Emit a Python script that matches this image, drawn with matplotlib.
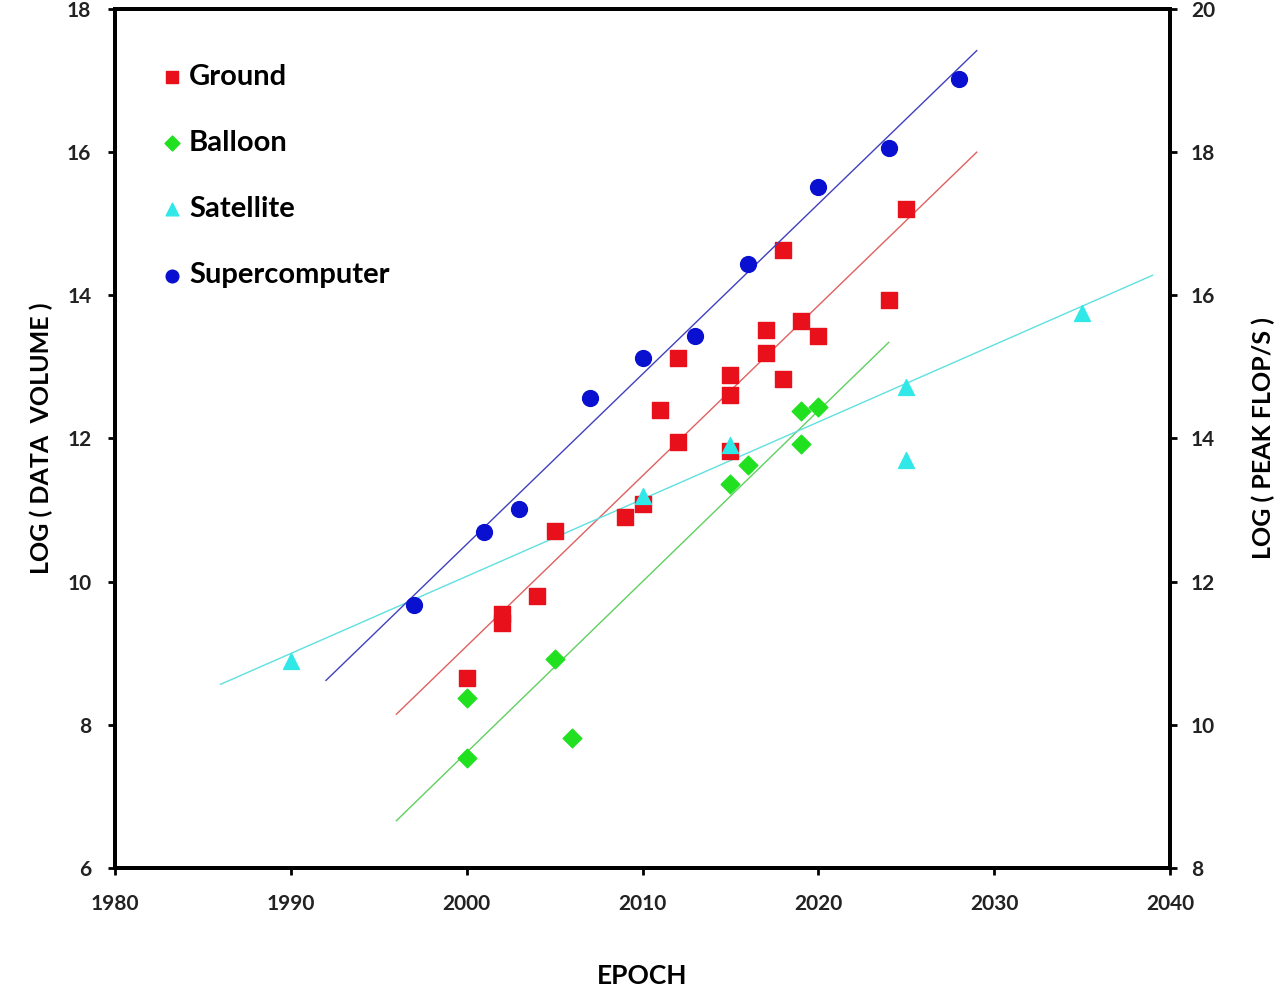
import numpy as np
import matplotlib
matplotlib.use("Agg")
import matplotlib.pyplot as plt

plt.rcParams['font.family'] = ['Lato', 'DejaVu Sans']

# log(data volume) vs epoch
ground_x = [2000, 2002, 2002, 2004, 2005, 2009, 2010, 2011, 2012, 2012, 2015, 2015, 2015,
            2017, 2017, 2018, 2018, 2019, 2020, 2024, 2025]
ground_y = [8.66, 9.55, 9.42, 9.80, 10.71, 10.90, 11.08, 12.40, 13.13, 11.95, 12.88, 12.61, 11.83,
            13.52, 13.20, 14.64, 12.83, 13.64, 13.43, 13.94, 15.21]

balloon_x = [2000, 2000, 2005, 2006, 2015, 2016, 2019, 2019, 2020]
balloon_y = [8.38, 7.54, 8.92, 7.82, 11.37, 11.63, 12.38, 11.92, 12.44]

satellite_x = [1990, 2010, 2015, 2025, 2035]
satellite_y = [8.89, 11.19, 11.91, 12.72, 13.75]
# extra satellite point, not part of the trend fit
satellite_extra_x = [2025]
satellite_extra_y = [11.70]

# log(peak flop/s), right axis
super_x = [1997, 2001, 2003, 2007, 2010, 2013, 2016, 2020, 2024, 2028]
super_y = [11.67, 12.70, 13.01, 14.56, 15.12, 15.43, 16.44, 17.51, 18.06, 19.02]

fig = plt.figure(figsize=(12.8, 9.88), dpi=100)
ax = fig.add_axes([0.0898, 0.1215, 0.8244, 0.8694])
ax2 = ax.twinx()

def trend(a, xs, ys, x0, x1, color):
    k, b = np.polyfit(xs, ys, 1)
    xx = np.array([x0, x1])
    a.plot(xx, k * xx + b, color=color, lw=1.0, zorder=2)

trend(ax, ground_x, ground_y, 1996, 2029, '#e06060')
trend(ax, balloon_x, balloon_y, 1996, 2024, '#60d060')
trend(ax, satellite_x, satellite_y, 1986, 2039, '#60e0e0')
trend(ax2, super_x, super_y, 1992, 2029, '#4040c0')

ax.scatter(ground_x, ground_y, marker='s', s=130, color='#e8101a', zorder=3, label='Ground')
ax.scatter(balloon_x, balloon_y, marker='D', s=90, color='#20e020', zorder=3, label='Balloon')
ax.scatter(satellite_x + satellite_extra_x, satellite_y + satellite_extra_y, marker='^', s=130,
           color='#30e8e8', zorder=4, label='Satellite')
ax2.scatter(super_x, super_y, marker='o', s=130, color='#0a10d0', zorder=3, label='Supercomputer')

ax.set_xlim(1980, 2040)
ax.set_ylim(6, 18)
ax2.set_ylim(8, 20)
ax.set_xticks(range(1980, 2041, 10))
ax.set_yticks(range(6, 19, 2))
ax2.set_yticks(range(8, 21, 2))

for a in (ax, ax2):
    for sp in a.spines.values():
        sp.set_linewidth(2.8)
    a.tick_params(direction='out', length=5, width=2, labelsize=15)
    for lab in a.get_xticklabels() + a.get_yticklabels():
        lab.set_fontweight('bold')
        lab.set_color('#222222')
ax.tick_params(axis='x', pad=14)
ax.tick_params(axis='y', pad=12)
ax2.tick_params(axis='y', pad=10)

ax.set_xlabel('EPOCH', fontsize=19, fontweight='bold', labelpad=36)
ax.set_ylabel('LOG ( DATA  VOLUME )', fontsize=18, fontweight='bold', labelpad=10)
ax2.set_ylabel('LOG ( PEAK FLOP/S )', fontsize=18, fontweight='bold', labelpad=26)

h1, l1 = ax.get_legend_handles_labels()
h2, l2 = ax2.get_legend_handles_labels()
leg = ax2.legend(h1 + h2, l1 + l2, loc='upper left', bbox_to_anchor=(0.015, 0.967),
                 frameon=False, labelspacing=1.38, handletextpad=0.1,
                 handlelength=1.0, markerscale=0.8, prop={'weight': 'bold', 'size': 21})

fig.savefig('out.png', dpi=100)
